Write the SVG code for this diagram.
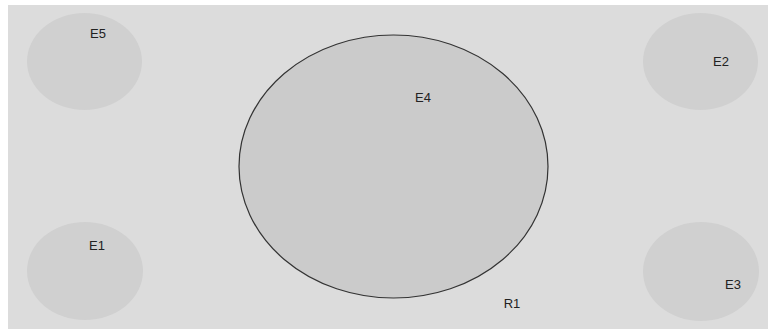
<svg xmlns="http://www.w3.org/2000/svg" width="768" height="334" viewBox="0 0 768 334">
<style>
.bg{fill:#dcdcdc}
.small{fill:#d0d0d0;stroke:none}
.big{fill:#cbcbcb;stroke:#333333;stroke-width:1.2}
text{font-family:"Liberation Sans",Arial,sans-serif;font-size:13px;fill:#222222;text-anchor:middle}
</style>
<rect x="0" y="0" width="768" height="334" fill="#ffffff"/>
<rect class="bg" x="8" y="5" width="760" height="324"/>
<g id="E4">
<ellipse class="big" cx="393.5" cy="166.5" rx="154.5" ry="131.5"/>
<text x="423" y="102">E4</text>
</g>
<g id="E5">
<ellipse class="small" cx="84.5" cy="61.5" rx="57.5" ry="48.5"/>
<text x="98" y="38">E5</text>
</g>
<g id="E2">
<ellipse class="small" cx="700.5" cy="61.5" rx="57.5" ry="48.5"/>
<text x="721" y="66">E2</text>
</g>
<g id="E1">
<ellipse class="small" cx="85" cy="271" rx="58" ry="49"/>
<text x="97" y="250">E1</text>
</g>
<g id="E3">
<ellipse class="small" cx="701" cy="271.5" rx="58" ry="49.5"/>
<text x="733" y="289">E3</text>
</g>
<g id="R1">
<text x="512" y="308">R1</text>
</g>
<g id="connectors"></g>
</svg>
